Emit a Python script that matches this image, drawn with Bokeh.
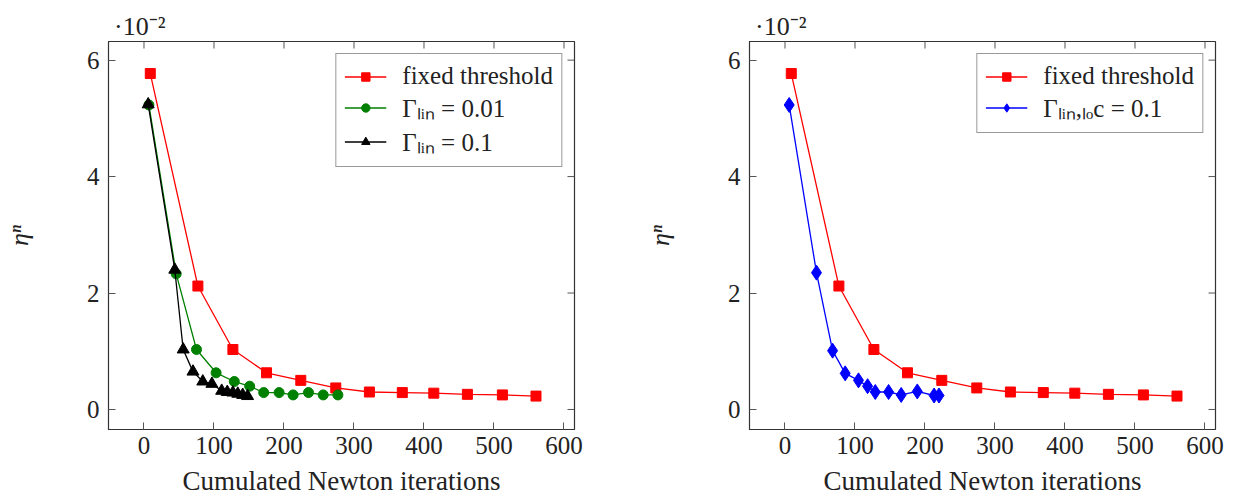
import math
from bokeh.plotting import figure
from bokeh.layouts import row
from bokeh.models import Range1d, FixedTicker, Legend, LegendItem, LinearAxis
from bokeh.embed import file_html
from bokeh.resources import INLINE

# eta^n (in units of 1e-2) against cumulated Newton iterations
fixed_x = [9, 77, 127, 175, 224, 274, 322, 369, 414, 462, 512, 560]
fixed_y = [5.77, 2.12, 1.03, 0.63, 0.50, 0.37, 0.30, 0.29, 0.28, 0.26, 0.25, 0.23]

lin001_x = [7, 46, 75, 103, 129, 151, 171, 193, 213, 235, 256, 277]
lin001_y = [5.23, 2.33, 1.03, 0.63, 0.48, 0.40, 0.29, 0.29, 0.25, 0.29, 0.25, 0.25]

lin01_x = [6, 44, 56, 70, 84, 97, 111, 119, 127, 134, 141, 148]
lin01_y = [5.24, 2.40, 1.03, 0.65, 0.48, 0.44, 0.32, 0.30, 0.29, 0.27, 0.25, 0.23]

linloc_x = [6, 45, 68, 86, 105, 118, 129, 148, 166, 189, 213, 220]
linloc_y = [5.23, 2.35, 1.01, 0.62, 0.50, 0.40, 0.30, 0.30, 0.25, 0.31, 0.24, 0.24]

x_ticks = [0, 100, 200, 300, 400, 500, 600]
y_ticks = [0, 2, 4, 6]
x_lo, x_hi = -50.7, 615
y_lo, y_hi = -0.344, 6.32

FONT = "Liberation Serif"
FS = "25px"
INK = "#222222"
FRAME = "#333333"


def make_panel(series, left_border, right_border):
    p = figure(width=left_border + 466 + right_border, height=498,
               x_range=Range1d(x_lo, x_hi), y_range=Range1d(y_lo, y_hi),
               output_backend="svg", toolbar_location=None,
               min_border_left=left_border, min_border_right=right_border,
               min_border_top=41, min_border_bottom=69)
    p.grid.visible = False
    p.outline_line_color = FRAME
    p.outline_line_width = 1.2

    p.xaxis.axis_label = "Cumulated Newton iterations"
    p.yaxis.axis_label = "ηⁿ"
    p.xaxis.ticker = FixedTicker(ticks=x_ticks)
    p.yaxis.ticker = FixedTicker(ticks=y_ticks)
    for ax in (p.xaxis[0], p.yaxis[0]):
        ax.major_tick_in = 7
        ax.major_tick_out = 0
        ax.minor_tick_in = 0
        ax.minor_tick_out = 0
        ax.axis_line_color = FRAME
        ax.major_tick_line_color = "#555555"
        ax.major_label_text_font = FONT
        ax.major_label_text_font_size = FS
        ax.major_label_text_font_style = "normal"
        ax.major_label_text_color = INK
        ax.axis_label_text_font = FONT
        ax.axis_label_text_color = INK
    p.xaxis[0].axis_label_text_font_size = "27px"
    p.yaxis[0].axis_label_text_font_size = "26px"
    p.xaxis[0].axis_label_text_font_style = "normal"
    p.yaxis[0].axis_label_text_font_style = "italic"
    p.xaxis[0].major_label_standoff = 7
    p.xaxis[0].axis_label_standoff = 9
    p.yaxis[0].major_label_standoff = 9
    p.yaxis[0].axis_label_standoff = 50

    # scale factor of the y axis, written above the top-left corner
    sf_tick = -6
    sf_axis = LinearAxis(ticker=FixedTicker(ticks=[sf_tick]),
                         major_label_overrides={sf_tick: "·10⁻²"},
                         axis_line_color=None, major_tick_line_color=None,
                         minor_tick_line_color=None,
                         major_label_standoff=-5,
                         major_label_text_font=FONT,
                         major_label_text_font_size="26px",
                         major_label_text_font_style="normal",
                         major_label_text_color=INK)
    p.add_layout(sf_axis, "above")

    # inward ticks on the top and right edges of the box
    p.ray(x=x_ticks, y=[y_hi] * len(x_ticks), length=7, length_units="screen",
          angle=-math.pi / 2, line_color="#555555", line_width=1)
    p.ray(x=[x_hi] * len(y_ticks), y=y_ticks, length=7, length_units="screen",
          angle=math.pi, line_color="#555555", line_width=1)

    items = []
    for label, xs, ys, color, marker, size in series:
        ln = p.line(xs, ys, line_color=color, line_width=1.3)
        sc = p.scatter(xs, ys, marker=marker, size=size, fill_color=color,
                       line_color=color)
        items.append(LegendItem(label=label, renderers=[ln, sc]))

    legend = Legend(items=items, location="top_right")
    legend.label_text_font = FONT
    legend.label_text_font_size = "25px"
    legend.label_text_color = INK
    legend.border_line_color = FRAME
    legend.border_line_width = 1.2
    legend.glyph_width = 42
    legend.glyph_height = 21
    legend.label_height = 20
    legend.spacing = 0
    legend.padding = 8
    legend.margin = 12
    legend.label_standoff = 16
    p.add_layout(legend, "center")
    return p


left = make_panel([
    ("fixed threshold", fixed_x, fixed_y, "#ff0000", "square", 10),
    ("Γₗᵢₙ = 0.01", lin001_x, lin001_y, "#008000", "circle", 10),
    ("Γₗᵢₙ = 0.1", lin01_x, lin01_y, "#000000", "triangle", 12),
], 108, 42)

right = make_panel([
    ("fixed threshold", fixed_x, fixed_y, "#ff0000", "square", 10),
    ("Γₗᵢₙ,ₗₒc = 0.1", linloc_x, linloc_y, "#0000ff", "diamond", 15),
], 133, 18)

layout = row(left, right)
open("out.html", "w").write(file_html(layout, INLINE))
